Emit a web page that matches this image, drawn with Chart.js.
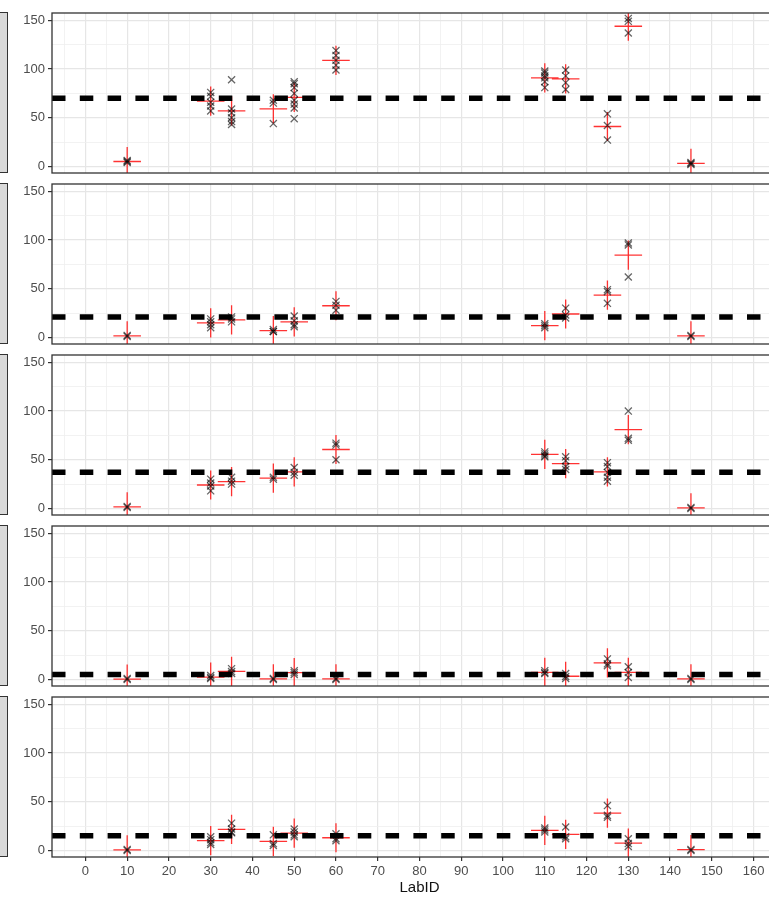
<!DOCTYPE html>
<html>
<head>
<meta charset="utf-8">
<script src="https://cdn.jsdelivr.net/npm/chart.js@4"></script>
<style>
  html, body { margin: 0; padding: 0; background: #fff; overflow: hidden; }
  #wrap { position: relative; width: 769px; height: 903px; overflow: hidden; }
  #wrap canvas { position: absolute; left: 0; }
  .strip { position: absolute; left: -20px; width: 28px; background: #d9d9d9; border: 1px solid #333; box-sizing: border-box; }
</style>
</head>
<body>
<div id="wrap"></div>
<script>
// Laboratory identifiers on the x axis
const labs = [10, 30, 35, 45, 50, 60, 110, 115, 125, 130, 145];

// Replicate results per laboratory, one list per facet
const repsA = [[4, 5, 6], [76, 72, 66, 62, 57], [89, 59, 55, 50, 46, 43], [68, 65, 44],
  [87, 85, 81, 75, 68, 64, 60, 49], [119, 114, 109, 104, 99], [98, 96, 93, 91, 87, 81],
  [99, 93, 86, 79], [54, 42, 27], [152, 149, 137], [3, 2, 4]];
const repsB = [[1, 2], [19, 16, 13, 10], [21, 19, 16], [8, 6, 6], [22, 17, 13, 11], [37, 33, 28],
  [14, 12, 10], [30, 23, 20], [49, 47, 35], [97, 95, 62], [1, 2]];
const repsC = [[1, 2], [30, 26, 23, 18], [32, 28, 25], [32, 30], [42, 37, 34], [67, 65, 50],
  [58, 56, 54, 53], [53, 49, 43, 40], [47, 43, 37, 32, 28], [100, 72, 70], [0, 1]];
const repsD = [[0, 1], [4, 2, 1], [11, 8, 6], [1, 0], [9, 7, 5], [1, 0], [9, 7, 6], [6, 3, 1],
  [21, 16, 14], [13, 7, 2], [0, 1]];
const repsE = [[0, 1], [14, 11, 8, 6], [28, 22, 19, 18], [16, 7, 5], [22, 19, 16, 14], [17, 12, 10],
  [23, 21, 19], [24, 14, 12], [46, 36, 34], [12, 7, 4], [0, 1]];

// Laboratory means (centre of the red crosses)
const meansA = [5, 67, 57, 59, 71, 109, 91, 90, 41, 144, 3];
const meansB = [1.5, 15, 18, 7, 16, 32.5, 12, 24, 43.5, 84.5, 1.5];
const meansC = [1.5, 24, 27.5, 31, 37.5, 60.5, 55.5, 46, 37.5, 81, 0.5];
const meansD = [0.3, 2.3, 8.2, 0.5, 7, 0.5, 7.3, 3.2, 17, 7.3, 0.5];
const meansE = [0.5, 10, 21.5, 9.2, 17.8, 13, 20.6, 16.4, 38.3, 7.5, 0.7];

// Consensus value per facet (dashed line)
const refValues = [70, 21, 37, 5, 15];

// Half-widths of the red crosses
const crossHalfX = 3.3;
const crossHalfY = 15;

// Axis ticks
const xTicks = [];
for (let v = -5; v <= 165; v += 5) xTicks.push(v);
const yTicks = [0, 25, 50, 75, 100, 125, 150];
const xRange = [-8, 168];
const yRange = [-6.8, 157.6];

const panels = [
  { reps: repsA, means: meansA },
  { reps: repsB, means: meansB },
  { reps: repsC, means: meansC },
  { reps: repsD, means: meansD },
  { reps: repsE, means: meansE }
];

const FONT = '"Liberation Sans", Arial, sans-serif';
const PANEL_TOP = 12.7, PANEL_STEP = 171, PANEL_H = 160, AXIS_W = 52, PAD = 3;

// Full rectangle around each panel
const panelBorder = {
  id: 'panelBorder',
  afterDraw(chart) {
    const a = chart.chartArea, c = chart.ctx;
    c.save();
    c.strokeStyle = '#333333';
    c.lineWidth = 1.3;
    c.strokeRect(a.left, a.top, a.right - a.left, a.bottom - a.top);
    c.restore();
  }
};

const wrap = document.getElementById('wrap');
const isEdgeY = v => v === yRange[0] || v === yRange[1];

panels.forEach((p, i) => {
  const isLast = i === panels.length - 1;
  const top = PANEL_TOP + PANEL_STEP * i;

  const strip = document.createElement('div');
  strip.className = 'strip';
  strip.style.top = (top - 1) + 'px';
  strip.style.height = (PANEL_H + 1) + 'px';
  wrap.appendChild(strip);

  const canvas = document.createElement('canvas');
  const h = isLast ? Math.round(903 - (top - PAD)) : PANEL_H + 2 * PAD;
  canvas.width = 800; canvas.height = h;
  canvas.style.width = '800px'; canvas.style.height = h + 'px';
  canvas.style.top = (top - PAD) + 'px';
  wrap.appendChild(canvas);

  const points = [];
  labs.forEach((lab, k) => p.reps[k].forEach(v => points.push({ x: lab, y: v })));

  const crosses = [];
  labs.forEach((lab, k) => {
    const m = p.means[k];
    crosses.push({ x: lab - crossHalfX, y: m }, { x: lab + crossHalfX, y: m }, { x: lab, y: null });
    crosses.push({ x: lab, y: m - crossHalfY }, { x: lab, y: m + crossHalfY }, { x: lab, y: null });
  });

  const ref = [{ x: xRange[0], y: refValues[i] }, { x: xRange[1], y: refValues[i] }];

  new Chart(canvas, {
    type: 'scatter',
    data: {
      datasets: [
        { type: 'line', data: ref, borderColor: '#000', borderWidth: 5.5, borderDash: [13.5, 14.3],
          borderCapStyle: 'butt', pointRadius: 0, order: 0 },
        { type: 'scatter', data: points, pointStyle: 'crossRot', pointRadius: 5,
          borderColor: 'rgba(0,0,0,0.6)', borderWidth: 1.3, backgroundColor: 'transparent', order: 1 },
        { type: 'line', data: crosses, borderColor: 'rgba(255,0,0,0.8)', borderWidth: 1.3,
          pointRadius: 0, spanGaps: false, showLine: true, order: 2 }
      ]
    },
    options: {
      responsive: false,
      animation: false,
      events: [],
      layout: { autoPadding: false, padding: { top: PAD, bottom: isLast ? 0 : PAD, left: 0, right: 13 } },
      plugins: { legend: { display: false }, tooltip: { enabled: false } },
      scales: {
        x: {
          type: 'linear', min: xRange[0], max: xRange[1],
          afterBuildTicks: s => { s.ticks = xTicks.map(v => ({ value: v })); },
          afterFit: s => {
            s.height = isLast ? h - PAD - PANEL_H : 0;
            s.paddingLeft = 0; s.paddingRight = 0;
          },
          border: { display: false },
          grid: {
            color: c => (c.tick && c.tick.value % 10 === 0) ? '#e6e6e6' : '#efefef',
            lineWidth: c => (c.tick && c.tick.value % 10 === 0) ? 1.2 : 0.8,
            drawTicks: isLast, tickLength: 4,
            tickColor: c => (c.tick && c.tick.value % 10 === 0 && c.tick.value >= 0) ? '#333' : 'rgba(0,0,0,0)'
          },
          ticks: {
            display: isLast, padding: 3, color: '#4d4d4d', maxRotation: 0, autoSkip: false,
            font: { family: FONT, size: 13 },
            callback: v => (v % 10 === 0 && v >= 0) ? String(v) : ''
          },
          title: { display: isLast, text: 'LabID', color: '#111', font: { family: FONT, size: 15 },
            padding: { top: 2, bottom: 6 } }
        },
        y: {
          type: 'linear', min: yRange[0], max: yRange[1],
          afterBuildTicks: s => { s.ticks = [yRange[0], ...yTicks, yRange[1]].map(v => ({ value: v })); },
          afterFit: s => {
            s.width = AXIS_W;
            s.paddingTop = 0; s.paddingBottom = 0;
          },
          border: { display: false },
          grid: {
            color: c => !c.tick || c.tick.value % 25 !== 0 ? 'rgba(0,0,0,0)'
              : (c.tick.value % 50 === 0 ? '#e6e6e6' : '#efefef'),
            lineWidth: c => (c.tick && c.tick.value % 50 === 0) ? 1.2 : 0.8,
            tickLength: 4,
            tickColor: c => (c.tick && c.tick.value % 50 === 0) ? '#333' : 'rgba(0,0,0,0)'
          },
          ticks: {
            padding: 3, color: '#4d4d4d', font: { family: FONT, size: 13 },
            callback: v => isEdgeY(v) ? null : (v % 50 === 0 ? String(v) : '')
          }
        }
      }
    },
    plugins: [panelBorder]
  });
});
</script>
</body>
</html>
